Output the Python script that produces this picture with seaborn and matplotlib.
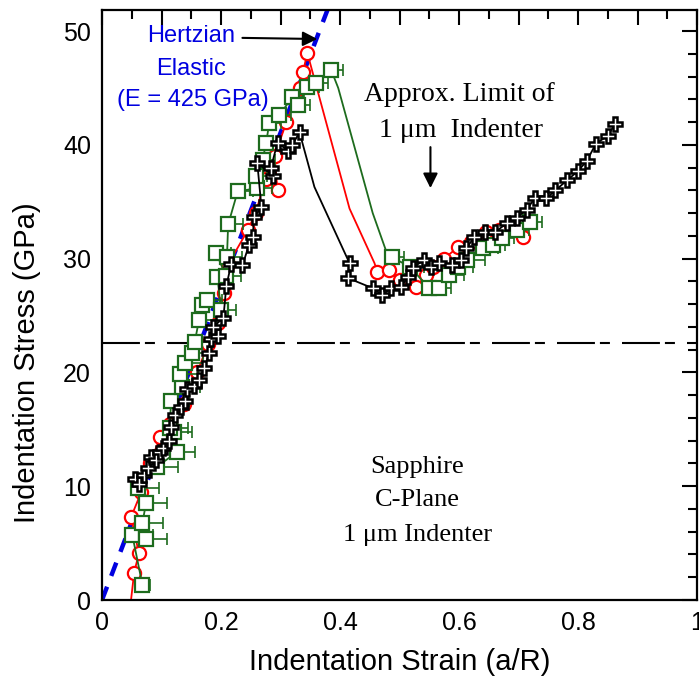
import numpy as np
import pandas as pd
import matplotlib
matplotlib.use("Agg")
import matplotlib.pyplot as plt
from matplotlib.ticker import MultipleLocator, FuncFormatter
import seaborn as sns

# ---------------- data ----------------
hertz_strain = [0.0, 0.38]
hertz_stress = [0.0, 52.0]

red_strain = [0.049, 0.054, 0.062, 0.049, 0.066, 0.080, 0.098, 0.115, 0.138, 0.160,
              0.178, 0.195, 0.205, 0.212, 0.245, 0.258, 0.275, 0.295, 0.290, 0.310,
              0.332, 0.338, 0.345, 0.416, 0.458, 0.463, 0.482, 0.500, 0.528, 0.545,
              0.556, 0.575, 0.598, 0.620, 0.645, 0.668, 0.690, 0.707]
red_stress = [0.1, 2.4, 4.1, 7.3, 9.5, 12.0, 14.3, 15.5, 17.2, 20.0,
              22.5, 24.3, 27.0, 29.5, 32.5, 34.0, 37.0, 36.0, 39.0, 42.0,
              45.0, 46.4, 48.1, 34.4, 29.6, 28.8, 29.0, 28.1, 27.5, 28.6,
              29.3, 30.0, 31.0, 31.5, 32.3, 32.5, 33.0, 31.9]

green_strain = [0.068, 0.051, 0.074, 0.068, 0.074, 0.060, 0.092, 0.126, 0.121, 0.114,
                0.116, 0.134, 0.131, 0.139, 0.151, 0.156, 0.163, 0.168, 0.176, 0.200,
                0.194, 0.208, 0.192, 0.210, 0.212, 0.228, 0.261, 0.258, 0.270, 0.276,
                0.281, 0.298, 0.320, 0.330, 0.345, 0.360, 0.385, 0.397, 0.455, 0.478,
                0.488, 0.517, 0.550, 0.567, 0.584, 0.598, 0.614, 0.640, 0.657, 0.673,
                0.697, 0.719]
green_stress = [1.3, 5.7, 5.4, 6.8, 8.5, 9.8, 11.7, 13.0, 14.8, 15.1,
                17.5, 18.7, 19.9, 20.8, 21.7, 22.7, 24.6, 25.9, 26.4, 25.5,
                28.4, 28.5, 30.5, 30.1, 33.0, 35.9, 36.2, 37.3, 38.7, 40.2,
                41.9, 42.6, 44.2, 43.5, 45.1, 45.4, 46.6, 45.0, 34.0, 30.6,
                30.1, 29.3, 27.4, 27.4, 28.6, 29.3, 29.9, 30.9, 31.2, 31.8,
                32.5, 33.2]
green_strain_err = [0.012, 0.035, 0.035, 0.035, 0.035, 0.035, 0.035, 0.030, 0.030, 0.030,
                    0.030, 0.030, 0.030, 0.030, 0.030, 0.030, 0.030, 0.030, 0.025, 0.025,
                    0.025, 0.025, 0.025, 0.025, 0.025, 0.025, 0.025, 0.020, 0.020, 0.020,
                    0.020, 0.020, 0.020, 0.020, 0.020, 0.020, 0.020, 0.0, 0.0, 0.0,
                    0.020, 0.025, 0.020, 0.020, 0.025, 0.025, 0.030, 0.025, 0.020, 0.020,
                    0.020, 0.020]

black_strain = [0.055, 0.062, 0.070, 0.078, 0.083, 0.090, 0.097, 0.103, 0.113, 0.116,
                0.123, 0.132, 0.140, 0.143, 0.155, 0.163, 0.172, 0.180, 0.183, 0.195,
                0.187, 0.204, 0.209, 0.217, 0.236, 0.247, 0.253, 0.256, 0.268, 0.261,
                0.287, 0.284, 0.295, 0.312, 0.320, 0.332, 0.357, 0.416, 0.413, 0.455,
                0.471, 0.486, 0.503, 0.514, 0.522, 0.542, 0.553, 0.567, 0.589, 0.604,
                0.612, 0.626, 0.643, 0.660, 0.680, 0.697, 0.714, 0.727, 0.747, 0.762,
                0.782, 0.800, 0.815, 0.830, 0.850, 0.862]
black_stress = [10.6, 10.2, 11.0, 11.6, 12.6, 12.3, 13.0, 13.4, 14.0, 15.2,
                16.3, 17.0, 17.5, 18.5, 18.8, 19.3, 20.4, 21.7, 22.9, 23.2,
                24.0, 24.8, 27.6, 29.5, 29.4, 31.2, 31.9, 33.7, 34.5, 38.4,
                37.3, 38.0, 40.2, 39.5, 40.0, 41.1, 36.3, 29.6, 28.3, 27.4,
                26.8, 27.4, 27.5, 28.4, 29.2, 29.9, 29.3, 29.6, 29.4, 29.9,
                30.9, 31.9, 32.3, 32.3, 33.1, 33.6, 34.3, 35.3, 35.3, 36.0,
                36.9, 37.7, 38.6, 40.1, 40.8, 41.8]

limit_stress = 22.6
x_ticks_labelled = [0, 0.2, 0.4, 0.6, 0.8, 1]
y_ticks_labelled = [0, 10, 20, 30, 40, 50]

# ---------------- style ----------------
sns.set_style("white")
plt.rcParams["font.family"] = ["Liberation Sans", "DejaVu Sans"]
for k in ["text.color", "axes.labelcolor", "xtick.color", "ytick.color", "axes.edgecolor"]:
    plt.rcParams[k] = "black"

RED = "#ff0000"
GREEN = "#1d6b1d"
BLUE = "#0000e0"

fig = plt.figure(figsize=(6.99, 6.79), dpi=100)
ax = fig.add_axes([102 / 699, 79 / 679, 595 / 699, 590 / 679])

def with_marker(skip, n):
    return [i for i in range(n) if i not in skip]

# Hertzian elastic line (underneath the data)
hl = sns.lineplot(x=hertz_strain, y=hertz_stress, color=BLUE, lw=3.2, ax=ax,
                  zorder=1.8).lines[-1]
hl.set_dashes((3.2, 2.6))

# red series
red = pd.DataFrame({"x": red_strain, "y": red_stress})
sns.lineplot(data=red, x="x", y="y", sort=False, estimator=None, color=RED,
             lw=1.3, ax=ax, zorder=2)
rm = red.iloc[with_marker([0, 23, 24], len(red))]
ax.plot(rm["x"], rm["y"], ls="none", marker="o", ms=9.5, mfc="white", mec=RED,
        mew=1.6, zorder=2.1)

# green series
green = pd.DataFrame({"x": green_strain, "y": green_stress, "e": green_strain_err})
sns.lineplot(data=green, x="x", y="y", sort=False, estimator=None, color=GREEN,
             lw=1.3, ax=ax, zorder=3)
gm = green.iloc[with_marker([37, 38, 39], len(green))]
ax.errorbar(gm["x"], gm["y"], xerr=[np.zeros(len(gm)), gm["e"]], fmt="none",
            ecolor=GREEN, elinewidth=1.2, capsize=4, capthick=1.2, zorder=3.05)
ax.plot(gm["x"], gm["y"], ls="none", marker="s", ms=10, mfc="white", mec=GREEN,
        mew=1.6, zorder=3.1)

# black series
black = pd.DataFrame({"x": black_strain, "y": black_stress})
sns.lineplot(data=black, x="x", y="y", sort=False, estimator=None, color="black",
             lw=1.3, ax=ax, zorder=4)
bm = black.iloc[with_marker([36], len(black))]
ax.plot(bm["x"], bm["y"], ls="none", marker="P", ms=10.5, mfc="white", mec="black",
        mew=1.8, zorder=4.1)

# reference limit line
ax.axhline(limit_stress, color="black", lw=1.5, zorder=1.5).set_dashes((18.2, 2.4, 4.8, 5.8))

# axes
ax.set_xlim(0, 1)
ax.set_ylim(0, 51.85)
ax.xaxis.set_major_locator(MultipleLocator(0.1))
ax.xaxis.set_minor_locator(MultipleLocator(0.05))
ax.yaxis.set_major_locator(MultipleLocator(10))
ax.yaxis.set_minor_locator(MultipleLocator(2))

def make_fmt(labelled):
    def f(v, p):
        for t in labelled:
            if abs(v - t) < 1e-6:
                return "%g" % t
        return ""
    return FuncFormatter(f)

ax.xaxis.set_major_formatter(make_fmt(x_ticks_labelled))
ax.yaxis.set_major_formatter(make_fmt(y_ticks_labelled))
ax.tick_params(which="both", direction="in", top=True, right=True, width=1.5,
               labelsize=18, pad=8, colors="black")
ax.tick_params(which="major", length=11)
ax.tick_params(which="minor", length=6.5)
for s in ax.spines.values():
    s.set_linewidth(1.6)
    s.set_color("black")

ax.set_xlabel("Indentation Strain (a/R)", fontsize=21, va="center")
ax.set_ylabel("Indentation Stress (GPa)", fontsize=21, va="center")
ax.xaxis.set_label_coords(0.5, -0.105)
ax.yaxis.set_label_coords(-0.126, 0.403)

# annotations
sans = ["Liberation Sans", "DejaVu Sans"]
serif = ["Liberation Serif", "DejaVu Serif"]
ax.text(0.149, 49.6, "Hertzian", color=BLUE, fontsize=17, family=sans, ha="center", va="center")
ax.text(0.149, 46.7, "Elastic", color=BLUE, fontsize=17, family=sans, ha="center", va="center")
ax.text(0.152, 43.9, "(E = 425 GPa)", color=BLUE, fontsize=17, family=sans, ha="center", va="center")
ax.annotate("", xy=(0.362, 49.3), xytext=(0.236, 49.4),
            arrowprops=dict(arrowstyle="-|>", color="black", lw=1.5, mutation_scale=22,
                            shrinkA=0, shrinkB=0))

ax.text(0.601, 44.4, "Approx. Limit of", fontsize=20, family=serif, ha="center", va="center")
ax.text(0.604, 41.3, "1 μm  Indenter", fontsize=20, family=serif, ha="center", va="center")
ax.annotate("", xy=(0.552, 36.2), xytext=(0.552, 39.8),
            arrowprops=dict(arrowstyle="-|>", color="black", lw=1.5, mutation_scale=22,
                            shrinkA=0, shrinkB=0))

ax.text(0.530, 11.7, "Sapphire", fontsize=19, family=serif, ha="center", va="center")
ax.text(0.530, 8.8, "C-Plane", fontsize=19, family=serif, ha="center", va="center")
ax.text(0.530, 5.7, "1 μm Indenter", fontsize=19, family=serif, ha="center", va="center")

fig.savefig("out.png", dpi=100)
